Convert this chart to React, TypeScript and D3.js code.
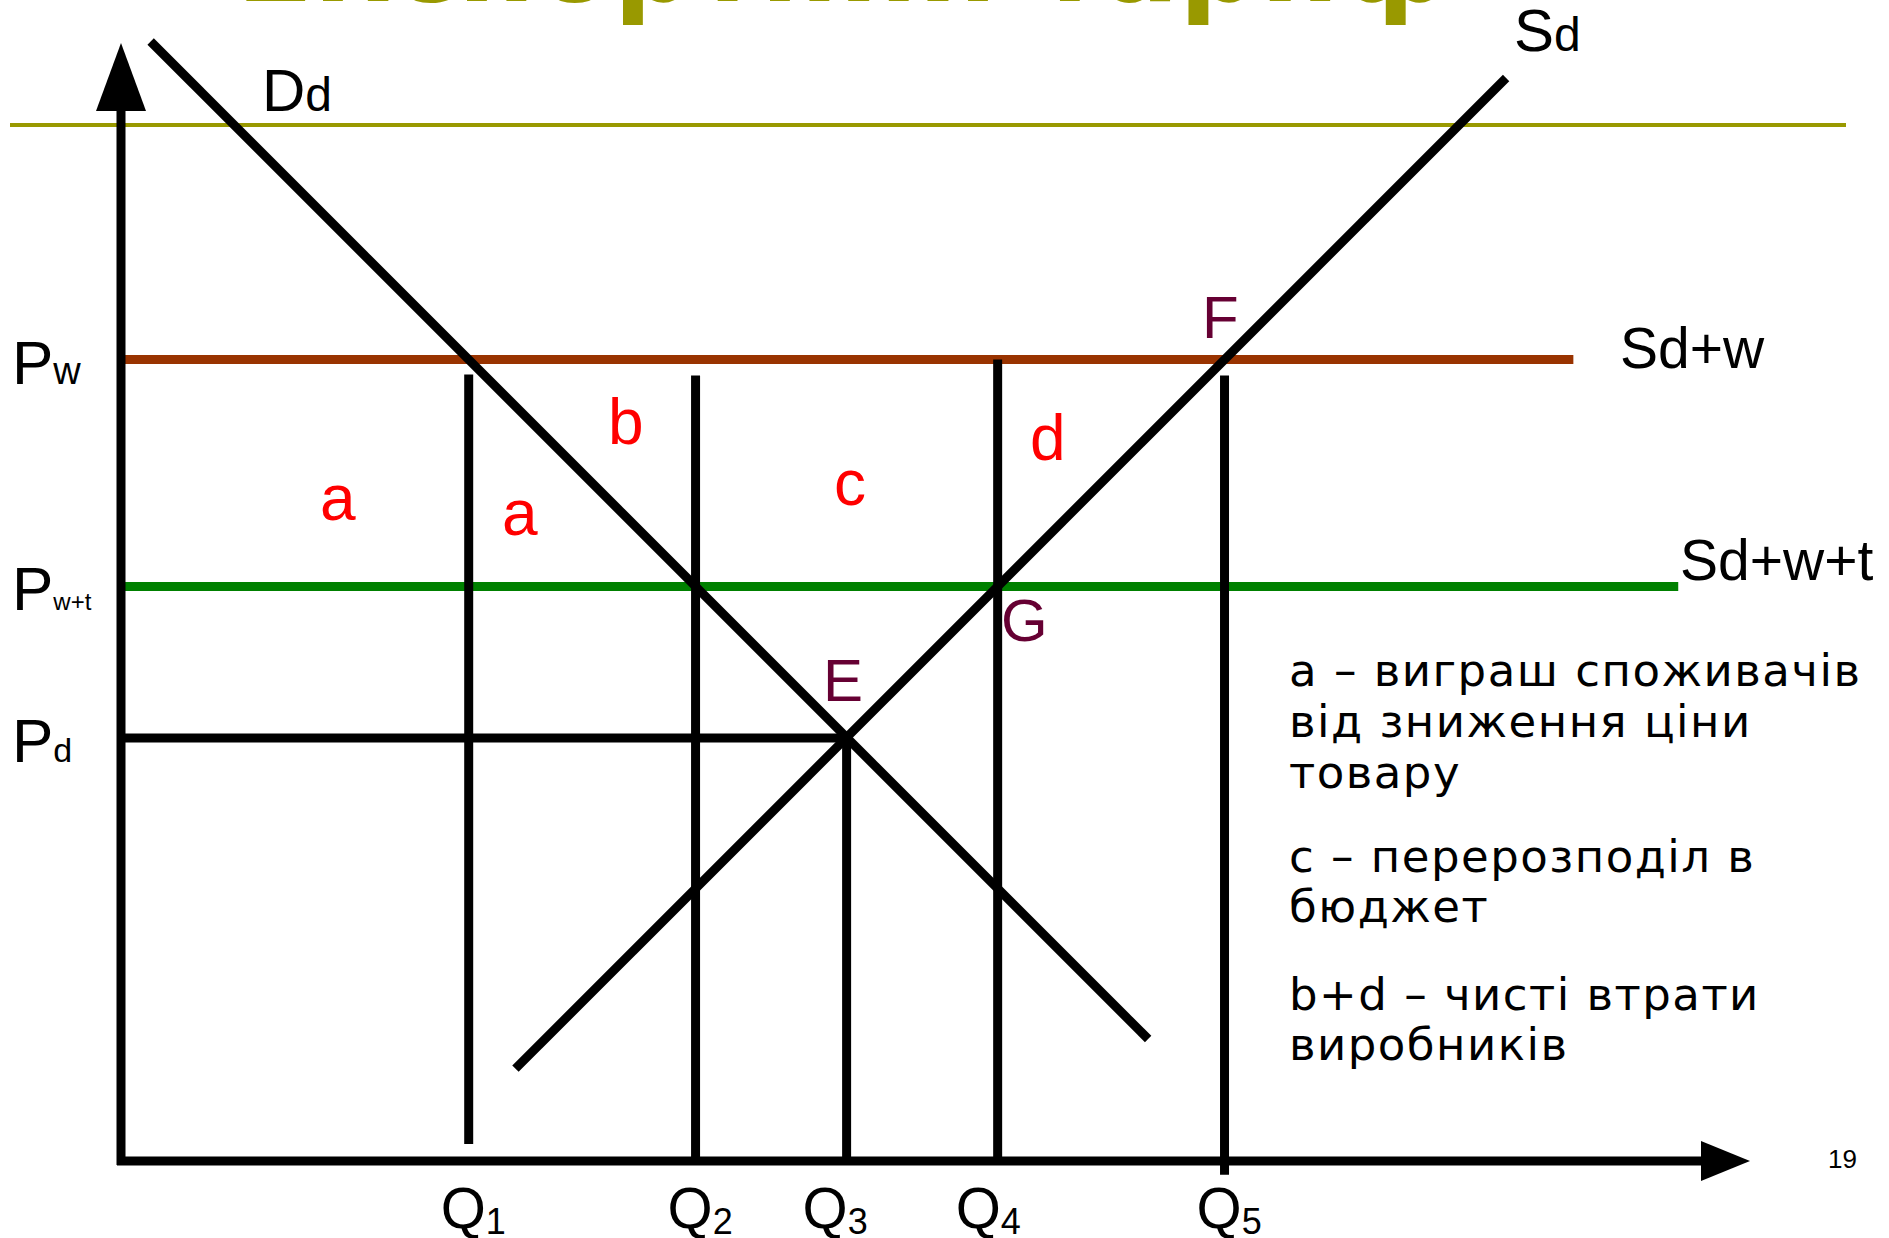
import React from "react";
import * as d3 from "d3";

// ---- data (economic units) ----
const prices = { Pw: 70.3, Pwt: 50.4, Pd: 37.1 };
const demandIntercept = 100.8; // Dd: P = a - Q
const supplyShift = 26.5; // Sd: P = Q - b
const demandRange = [2.6, 90.1];
const supplyRange = [34.6, 121.5];
const qLabels = ["1", "2", "3", "4", "5"];
const qValues = [30.5, 50.4, 63.65, 76.9, 96.8];
// vertical guide segments [Q, Ptop, Pbottom]
const guides: [number, number, number][] = [
  [30.5, 69.0, 1.5],
  [50.4, 68.9, 0],
  [63.65, 37.1, 0],
  [76.9, 70.3, 0],
  [96.8, 68.9, -1.2],
];
const lineEnds = { Pw: 127.4, Pwt: 136.6 };
const legendLines = [
  "a – виграш споживачів",
  "від зниження ціни",
  "товару",
  "c – перерозподіл в",
  "бюджет",
  "b+d – чисті втрати",
  "виробників",
];

const W = 1889;
const H = 1238;
const x = d3.scaleLinear().domain([0, 100]).range([121, 1261]);
const y = d3.scaleLinear().domain([0, 100]).range([1161, 21]);

const SANS = "'Liberation Sans', Arial, sans-serif";
const VERD = "'DejaVu Sans', Verdana, sans-serif";
const LW = 9;
const legendBaselines = [686, 737, 788, 872, 922, 1010, 1060];
const qNudge = [2, 2, -14, -12, 2];

export default function App() {
  const line = d3
    .line<[number, number]>()
    .x((d) => x(d[0]))
    .y((d) => y(d[1]));
  const demand: [number, number][] = demandRange.map((q) => [q, demandIntercept - q]);
  const supply: [number, number][] = supplyRange.map((q) => [q, q - supplyShift]);

  return (
    <svg
      width={W}
      height={H}
      style={{ position: "absolute", left: 0, top: 0, background: "#fff" }}
    >
      {/* slide title (cut off at top) */}
      <text
        x={236}
        y={1}
        fontFamily={VERD}
        fontWeight="bold"
        fontSize={115}
        fill="#999900"
        textLength={1216}
        lengthAdjust="spacingAndGlyphs"
      >
        Експортний тариф
      </text>
      <line x1={10} x2={1846} y1={125} y2={125} stroke="#999900" strokeWidth={4} />

      {/* price lines */}
      <line x1={x(0)} x2={x(lineEnds.Pw)} y1={y(prices.Pw)} y2={y(prices.Pw)} stroke="#993300" strokeWidth={LW} />
      <line x1={x(0)} x2={x(lineEnds.Pwt)} y1={y(prices.Pwt)} y2={y(prices.Pwt)} stroke="#008000" strokeWidth={LW} />
      <line x1={x(0)} x2={x(qValues[2])} y1={y(prices.Pd)} y2={y(prices.Pd)} stroke="#000" strokeWidth={LW} />

      {/* vertical guides */}
      {guides.map(([q, p1, p2], i) => (
        <line key={i} x1={x(q)} x2={x(q)} y1={y(p1)} y2={y(p2)} stroke="#000" strokeWidth={LW} />
      ))}

      {/* curves */}
      <path d={line(demand) || ""} stroke="#000" strokeWidth={LW} fill="none" />
      <path d={line(supply) || ""} stroke="#000" strokeWidth={LW} fill="none" />

      {/* axes */}
      <line x1={x(0)} x2={x(0)} y1={y(0) + 4} y2={100} stroke="#000" strokeWidth={LW} />
      <line x1={x(0) - 4} x2={1705} y1={y(0)} y2={y(0)} stroke="#000" strokeWidth={LW} />
      <polygon points={`${x(0)},43 ${x(0) - 25},111 ${x(0) + 25},111`} fill="#000" />
      <polygon points={`1750,${y(0)} 1701,${y(0) - 20} 1701,${y(0) + 20}`} fill="#000" />

      {/* curve labels */}
      <text x={262} y={111} fontFamily={SANS} fontSize={60} fill="#000">
        D<tspan fontSize={48}>d</tspan>
      </text>
      <text x={1514} y={51} fontFamily={SANS} fontSize={60} fill="#000">
        S<tspan fontSize={48}>d</tspan>
      </text>
      <text x={1620} y={368} fontFamily={SANS} fontSize={57} fill="#000">
        Sd+w
      </text>
      <text x={1680} y={580} fontFamily={SANS} fontSize={57} fill="#000">
        Sd+w+t
      </text>

      {/* price labels */}
      <text x={12} y={y(prices.Pw) + 24} fontFamily={SANS} fontSize={62} fill="#000">
        P<tspan fontSize={38}>w</tspan>
      </text>
      <text x={12} y={y(prices.Pwt) + 24} fontFamily={SANS} fontSize={62} fill="#000">
        P<tspan fontSize={24}>w+t</tspan>
      </text>
      <text x={12} y={y(prices.Pd) + 24} fontFamily={SANS} fontSize={62} fill="#000">
        P<tspan fontSize={34}>d</tspan>
      </text>

      {/* quantity labels */}
      {qValues.map((q, i) => (
        <text key={i} x={x(q) - 30 + qNudge[i]} y={1228} fontFamily={SANS} fontSize={58} fill="#000">
          Q<tspan fontSize={36} dy={6}>{qLabels[i]}</tspan>
        </text>
      ))}

      {/* point labels */}
      <text x={1202} y={338} fontFamily={SANS} fontSize={60} fill="#660033">F</text>
      <text x={1001} y={641} fontFamily={SANS} fontSize={60} fill="#660033">G</text>
      <text x={823} y={701} fontFamily={SANS} fontSize={60} fill="#660033">E</text>

      {/* area labels */}
      <text x={320} y={520} fontFamily={SANS} fontSize={64} fill="#ff0000">a</text>
      <text x={502} y={535} fontFamily={SANS} fontSize={64} fill="#ff0000">a</text>
      <text x={608} y={444} fontFamily={SANS} fontSize={64} fill="#ff0000">b</text>
      <text x={834} y={505} fontFamily={SANS} fontSize={64} fill="#ff0000">c</text>
      <text x={1030} y={460} fontFamily={SANS} fontSize={64} fill="#ff0000">d</text>

      {/* legend */}
      {legendLines.map((t, i) => (
        <text
          key={i}
          x={1289}
          y={legendBaselines[i]}
          fontFamily={VERD}
          fontSize={45}
          letterSpacing={1.5}
          fill="#000"
        >
          {t}
        </text>
      ))}

      <text x={1828} y={1168} fontFamily={SANS} fontSize={26} fill="#000">19</text>
    </svg>
  );
}
